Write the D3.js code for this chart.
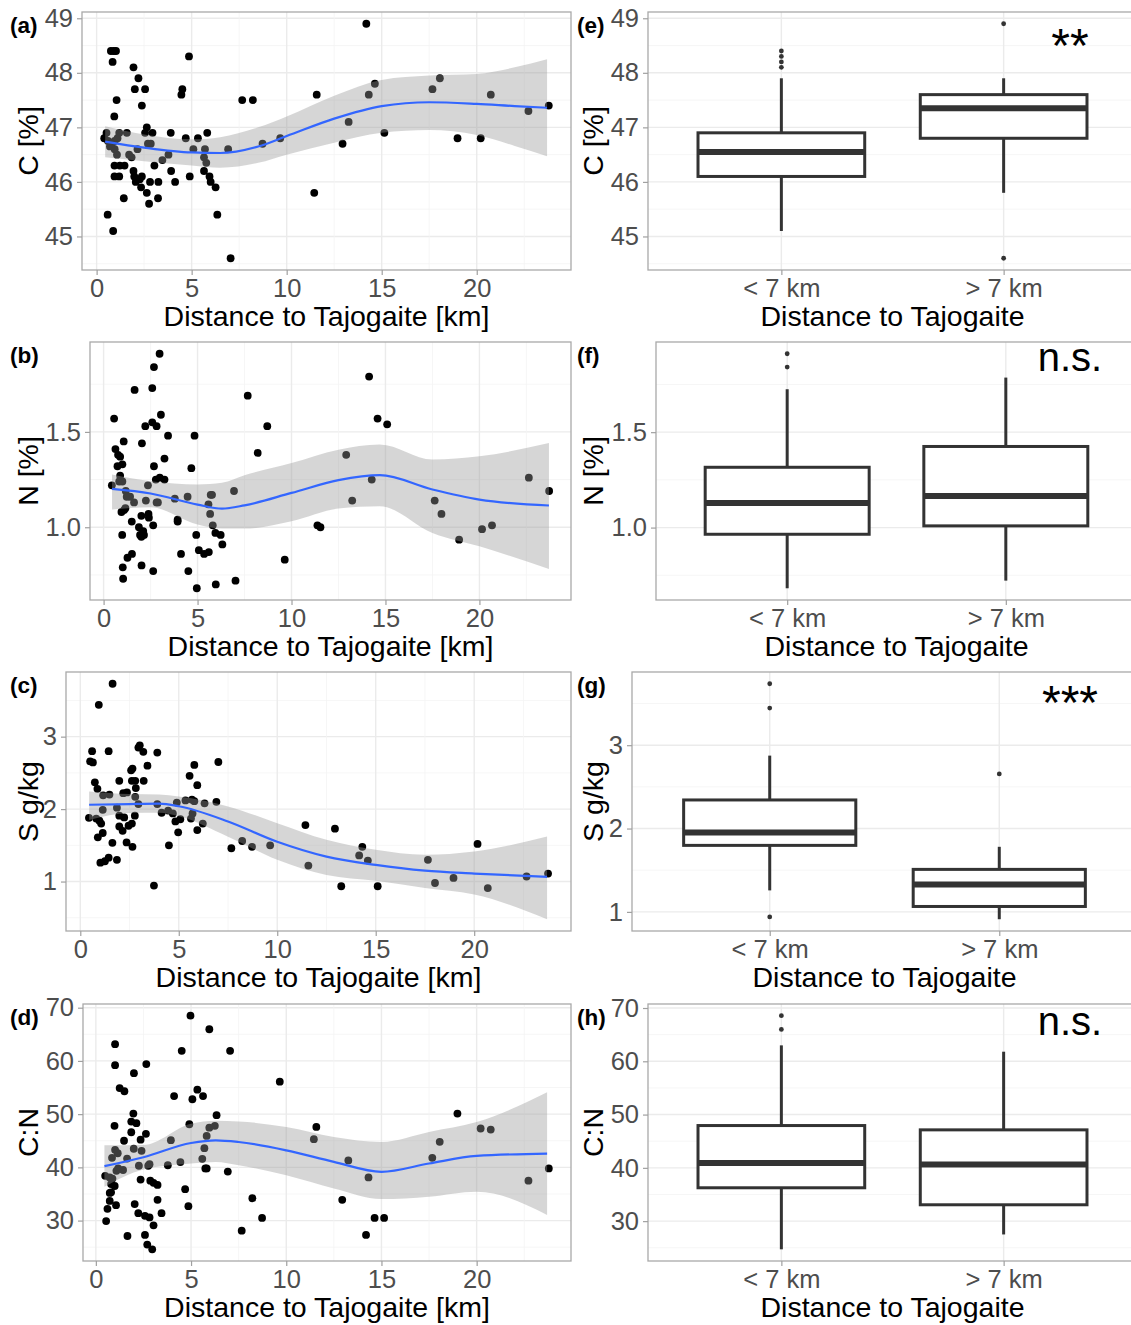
<!DOCTYPE html>
<html>
<head>
<meta charset="utf-8">
<script src="https://cdn.jsdelivr.net/npm/d3@7"></script>
<style>
  body { margin: 0; background: #fff; }
  svg text { font-family: "Liberation Sans", Arial, Helvetica, sans-serif; }
</style>
</head>
<body>
<script>
// ---------- sample data: [distance to Tajogaite (km), value] ----------
const carbonPts = [
  [0.75,48.4],[0.9,48.4],[1.02,48.4],[0.84,48.2],[4.86,48.3],[1.94,48.1],[2.2,47.9],[2.01,47.7],[2.55,47.7],
  [4.51,47.7],[4.46,47.6],[2.38,47.4],[1.05,47.5],[0.93,47.2],[0.52,46.9],[1.19,46.9],[1.59,46.9],[2.64,47.0],
  [2.55,46.9],[2.94,46.9],[3.9,46.9],[5.82,46.9],[4.69,46.8],[5.33,46.8],[0.4,46.8],[0.6,46.75],[0.95,46.75],
  [0.7,46.65],[0.95,46.6],[0.8,46.7],[1.1,46.8],[2.7,46.7],[2.85,46.7],[5.09,46.6],[5.7,46.6],[6.92,46.6],
  [1.71,46.5],[1.84,46.45],[2.15,46.6],[3.78,46.5],[3.46,46.4],[1.07,46.5],[5.65,46.45],[5.77,46.35],
  [0.94,46.3],[1.22,46.3],[1.47,46.3],[3.04,46.3],[1.94,46.2],[3.92,46.2],[5.65,46.2],[0.94,46.1],[1.19,46.1],
  [1.98,46.1],[2.38,46.1],[4.9,46.1],[5.94,46.1],[2.06,46.0],[2.27,46.05],[2.81,46.0],[3.25,46.0],[4.13,46.0],
  [6.0,46.0],[2.34,45.9],[2.64,45.8],[6.26,45.9],[1.43,45.7],[3.23,45.7],[2.76,45.6],[0.58,45.4],[6.35,45.4],
  [0.87,45.1],[7.05,44.6],[7.66,47.5],[8.22,47.5],[8.73,46.7],[9.66,46.8],[11.45,45.8],[11.58,47.6],
  [12.94,46.7],[13.26,47.1],[14.19,48.9],[14.32,47.6],[14.64,47.8],[15.14,46.9],[17.67,47.7],[18.06,47.9],
  [18.99,46.8],[20.21,46.8],[20.74,47.6],[22.72,47.3],[23.79,47.4]
];
const nitrogenPts = [
  [2.98,1.91],[2.68,1.84],[1.65,1.72],[2.59,1.73],[0.56,1.57],[3.05,1.59],[2.59,1.55],[2.22,1.53],[2.82,1.53],
  [3.43,1.48],[4.84,1.48],[1.07,1.45],[2.04,1.44],[0.63,1.41],[0.77,1.38],[0.88,1.37],[3.24,1.36],[0.74,1.32],
  [1.0,1.33],[2.68,1.32],[4.67,1.31],[0.83,1.24],[1.0,1.24],[0.88,1.27],[2.78,1.25],[2.99,1.26],[3.24,1.25],
  [0.44,1.22],[2.36,1.22],[1.18,1.19],[1.41,1.16],[1.23,1.16],[1.62,1.13],[2.25,1.14],[2.82,1.13],[2.89,1.13],
  [3.79,1.15],[4.47,1.16],[5.77,1.17],[5.7,1.17],[6.94,1.19],[5.58,1.12],[5.67,1.07],[0.95,1.08],[1.09,1.09],
  [1.16,1.1],[2.01,1.06],[2.39,1.07],[2.41,1.05],[3.94,1.04],[3.94,1.03],[5.81,1.01],[1.5,1.03],[1.88,1.0],
  [2.11,0.98],[1.94,0.96],[2.01,0.95],[2.15,0.96],[2.64,1.01],[0.99,0.96],[4.93,0.96],[5.95,0.97],[6.23,0.96],
  [6.32,0.91],[1.51,0.86],[1.27,0.84],[4.12,0.86],[5.07,0.88],[5.35,0.86],[5.6,0.87],[1.02,0.79],[2.02,0.8],
  [2.64,0.77],[4.51,0.77],[1.04,0.73],[4.96,0.68],[5.97,0.70],[7.02,0.72],[7.67,1.69],[8.2,1.39],[8.71,1.53],
  [9.64,0.83],[11.38,1.01],[11.54,1.0],[12.91,1.38],[13.23,1.14],[14.13,1.79],[14.27,1.25],[14.58,1.57],
  [15.09,1.54],[17.62,1.14],[17.98,1.07],[18.92,0.935],[20.14,0.99],[20.67,1.01],[22.63,1.26],[23.71,1.19]
];
const sulfurPts = [
  [1.64,3.73],[0.94,3.44],[0.6,2.8],[1.44,2.8],[3.02,2.88],[2.95,2.85],[3.2,2.79],[3.91,2.78],[0.5,2.66],
  [0.64,2.645],[5.79,2.61],[3.41,2.6],[2.65,2.56],[2.58,2.535],[5.55,2.46],[1.98,2.39],[2.62,2.39],[2.79,2.39],
  [3.22,2.39],[0.74,2.37],[5.94,2.33],[0.87,2.28],[2.82,2.29],[1.16,2.19],[1.48,2.2],[2.18,2.22],[2.37,2.23],
  [2.79,2.17],[5.34,2.12],[5.67,2.13],[5.79,2.11],[6.31,2.08],[6.91,2.1],[4.9,2.09],[3.91,2.07],[2.95,2.07],
  [1.14,1.99],[1.86,2.02],[4.13,1.95],[4.46,1.98],[4.7,1.94],[5.7,1.94],[0.44,1.88],[0.81,1.87],[0.97,1.84],
  [1.06,1.8],[1.98,1.91],[2.23,1.885],[2.77,1.91],[4.83,1.83],[5.08,1.86],[5.62,1.87],[1.98,1.76],[2.15,1.7],
  [2.62,1.8],[2.45,1.77],[6.22,1.8],[4.97,1.68],[5.94,1.71],[0.89,1.61],[1.14,1.67],[2.35,1.54],[2.65,1.48],
  [1.63,1.535],[4.5,1.5],[1.02,1.26],[1.25,1.28],[1.44,1.33],[1.86,1.3],[3.74,0.945],
  [7.01,2.65],[7.67,1.46],[8.22,1.56],[8.72,1.48],[9.64,1.5],[11.43,1.78],[11.58,1.22],[12.93,1.73],
  [13.25,0.935],[14.16,1.36],[14.32,1.48],[14.6,1.29],[15.1,0.935],[17.65,1.3],[18.01,0.98],[18.95,1.05],
  [20.17,1.52],[20.69,0.91],[22.66,1.07],[23.75,1.11]
];
const ratioPts = [
  [4.97,68.5],[5.96,65.95],[1.01,63.15],[4.51,61.9],[1.01,59.2],[2.65,59.4],[2.0,57.7],[1.25,54.9],[1.5,54.3],
  [4.11,53.4],[5.33,54.6],[5.07,52.8],[5.63,53.4],[1.97,50.1],[6.34,49.8],[1.86,48.6],[2.13,48.3],[0.98,47.8],
  [2.63,46.3],[1.86,46.6],[4.91,48.1],[5.96,47.45],[6.25,47.8],[5.82,45.9],[1.48,45.0],[2.35,45.2],[3.94,45.1],
  [1.01,43.3],[1.15,42.65],[1.99,43.5],[2.4,43.1],[5.7,43.6],[0.85,41.8],[1.64,41.65],[2.26,40.3],[2.82,40.6],
  [2.75,40.3],[3.78,40.4],[4.44,41.0],[5.59,41.6],[1.17,39.8],[1.43,39.5],[1.08,39.35],[5.75,39.8],[5.82,39.8],
  [0.49,38.4],[0.73,38.1],[0.87,37.9],[0.8,36.85],[0.99,36.5],[2.35,37.7],[2.86,37.5],[3.03,37.1],[3.24,36.7],
  [4.69,35.9],[6.93,39.2],[0.8,35.3],[0.73,35.2],[3.24,33.9],[0.73,33.7],[1.06,32.9],[0.61,32.2],[2.04,33.1],
  [4.86,32.7],[0.54,29.9],[2.23,31.4],[2.58,30.9],[2.82,30.6],[3.45,31.4],[3.03,29.1],[1.66,27.1],[2.58,27.3],
  [2.7,25.5],[2.96,24.6],[7.05,61.9],[7.66,28.1],[8.22,34.2],[8.73,30.5],[9.66,56.1],[11.45,45.3],[11.58,47.6],
  [12.94,33.9],[13.26,41.3],[14.19,27.3],[14.32,38.1],[14.64,30.5],[15.14,30.5],[17.67,41.8],[18.06,44.8],
  [18.99,50.1],[20.21,47.3],[20.74,47.1],[22.72,37.5],[23.79,39.8]
];

// ---------- loess fits with 95% band ----------
const carbonFitX = [0.45, 2.5, 5, 6.5, 8.5, 10, 12.5, 15, 17.5, 20, 22, 23.7];
const carbonFit  = [46.74, 46.63, 46.54, 46.53, 46.65, 46.84, 47.16, 47.39, 47.46, 47.43, 47.39, 47.36];
const carbonLo   = [46.45, 46.38, 46.30, 46.26, 46.35, 46.50, 46.72, 46.90, 46.95, 46.86, 46.66, 46.47];
const carbonHi   = [47.02, 46.87, 46.78, 46.82, 47.00, 47.20, 47.58, 47.87, 47.95, 47.98, 48.10, 48.25];

const nitrogenFitX = [0.45, 2.5, 5, 6.3, 7.5, 10, 12.5, 14.7, 17.5, 20, 23.7];
const nitrogenFit  = [1.201, 1.177, 1.119, 1.098, 1.115, 1.180, 1.247, 1.273, 1.198, 1.145, 1.114];
const nitrogenLo   = [1.093, 1.105, 1.014, 0.993, 0.993, 1.031, 1.098, 1.110, 0.970, 0.900, 0.781];
const nitrogenHi   = [1.276, 1.241, 1.224, 1.233, 1.273, 1.337, 1.407, 1.434, 1.355, 1.372, 1.442];

const sulfurFitX = [0.45, 2.5, 4, 5, 7.5, 10, 12.5, 15, 17.5, 20, 23.7];
const sulfurFit  = [2.06, 2.07, 2.075, 2.04, 1.83, 1.55, 1.345, 1.23, 1.15, 1.11, 1.065];
const sulfurLo   = [1.85, 1.945, 1.95, 1.90, 1.62, 1.30, 1.09, 1.01, 0.91, 0.82, 0.48];
const sulfurHi   = [2.244, 2.207, 2.20, 2.175, 2.037, 1.806, 1.576, 1.438, 1.369, 1.415, 1.622];

const ratioFitX = [0.45, 2.5, 5, 6.3, 7.5, 10, 12.5, 15, 17.5, 20, 23.7];
const ratioFit  = [40.22, 41.9, 44.58, 45.08, 44.77, 43.2, 41.03, 39.16, 40.72, 42.15, 42.59];
const ratioLo   = [36.36, 39.6, 40.72, 41.03, 40.4, 38.53, 36.04, 34.05, 34.49, 35.42, 31.06];
const ratioHi   = [44.14, 44.2, 48.19, 48.75, 48.63, 47.57, 45.7, 44.77, 46.64, 48.5, 54.11];

// ---------- box-plot summaries by distance class ----------
const groups = ["< 7 km", "> 7 km"];
const carbonBox = [
  { lower: 45.1, q1: 46.1, median: 46.55, q3: 46.9, upper: 47.9, out: [48.1, 48.2, 48.3, 48.4] },
  { lower: 45.8, q1: 46.8, median: 47.35, q3: 47.6, upper: 47.9, out: [48.9, 44.6] }
];
const nitrogenBox = [
  { lower: 0.682, q1: 0.965, median: 1.129, q3: 1.316, upper: 1.725, out: [1.911, 1.841] },
  { lower: 0.722, q1: 1.009, median: 1.166, q3: 1.425, upper: 1.786, out: [] }
];
const sulfurBox = [
  { lower: 1.258, q1: 1.798, median: 1.954, q3: 2.343, upper: 2.875, out: [3.737, 3.445, 0.94] },
  { lower: 0.912, q1: 1.065, median: 1.329, q3: 1.51, upper: 1.781, out: [2.655] }
];
const ratioBox = [
  { lower: 24.71, q1: 36.26, median: 40.93, q3: 47.94, upper: 62.99, out: [68.56, 65.98] },
  { lower: 27.5, q1: 33.07, median: 40.62, q3: 47.13, upper: 61.8, out: [] }
];
const signif = ["**", "n.s.", "***", "n.s."];

// ---------- tick values and labels ----------
const distTicks = [0, 5, 10, 15, 20];
const carbonTicks = [45, 46, 47, 48, 49];
const nitrogenTicks = [1.0, 1.5];
const nitrogenTickLabels = ["1.0", "1.5"];
const sulfurTicks = [1, 2, 3];
const ratioTicks = [30, 40, 50, 60, 70];

const panelLetters = ["(a)", "(b)", "(c)", "(d)", "(e)", "(f)", "(g)", "(h)"];
const yTitles = ["C [%]", "N [%]", "S g/kg", "C:N"];

// ---------- drawing ----------
const W = 1131, H = 1325;
const svg = d3.select("body").append("svg")
  .attr("width", W).attr("height", H).style("display", "block");
svg.append("rect").attr("width", W).attr("height", H).attr("fill", "#ffffff");

const TICK_FS = 25.5, TITLE_FS = 28.5, LETTER_FS = 22.5;
const GRID_MAJOR = "#ebebeb", GRID_MINOR = "#f4f4f4", BORDER = "#a9a9a9", TICK_COL = "#a0a0a0";
const BOX_COL = "#333333";

function expand([a, b], f = 0.05) { const d = (b - a) * f; return [a - d, b + d]; }
function minorsOf(ticks, dom) {
  const step = ticks[1] - ticks[0], out = [];
  for (let v = ticks[0] - step / 2; v <= dom[1]; v += step) if (v >= dom[0]) out.push(v);
  return out;
}

let clipId = 0;
function panelFrame(box) {
  const id = "clip" + (clipId++);
  svg.append("clipPath").attr("id", id).append("rect")
    .attr("x", box.x0).attr("y", box.y0).attr("width", box.x1 - box.x0).attr("height", box.y1 - box.y0);
  return svg.append("g").attr("clip-path", `url(#${id})`);
}
function border(box) {
  svg.append("rect").attr("x", box.x0).attr("y", box.y0)
    .attr("width", box.x1 - box.x0).attr("height", box.y1 - box.y0)
    .attr("fill", "none").attr("stroke", BORDER).attr("stroke-width", 1.3);
}
function hGrid(g, y, box, major, minor) {
  g.selectAll(null).data(minor).join("line")
    .attr("x1", box.x0).attr("x2", box.x1).attr("y1", d => y(d)).attr("y2", d => y(d))
    .attr("stroke", GRID_MINOR).attr("stroke-width", 0.8);
  g.selectAll(null).data(major).join("line")
    .attr("x1", box.x0).attr("x2", box.x1).attr("y1", d => y(d)).attr("y2", d => y(d))
    .attr("stroke", GRID_MAJOR).attr("stroke-width", 1.4);
}
function vGrid(g, x, box, major, minor) {
  g.selectAll(null).data(minor).join("line")
    .attr("y1", box.y0).attr("y2", box.y1).attr("x1", d => x(d)).attr("x2", d => x(d))
    .attr("stroke", GRID_MINOR).attr("stroke-width", 0.8);
  g.selectAll(null).data(major).join("line")
    .attr("y1", box.y0).attr("y2", box.y1).attr("x1", d => x(d)).attr("x2", d => x(d))
    .attr("stroke", GRID_MAJOR).attr("stroke-width", 1.4);
}
function styleAxis(g) {
  g.select(".domain").remove();
  g.attr("font-family", null).attr("font-size", TICK_FS);
  g.selectAll(".tick line").attr("stroke", TICK_COL).attr("stroke-width", 1.2);
  g.selectAll(".tick text").attr("fill", "#4d4d4d");
}
function axes(x, y, box, xTicks, xFmt, yTicks, yFmt) {
  const gx = svg.append("g").attr("transform", `translate(0,${box.y1})`)
    .call(d3.axisBottom(x).tickValues(xTicks).tickFormat(xFmt).tickSize(5).tickPadding(4));
  styleAxis(gx);
  const gy = svg.append("g").attr("transform", `translate(${box.x0},0)`)
    .call(d3.axisLeft(y).tickValues(yTicks).tickFormat(yFmt).tickSize(5).tickPadding(4));
  styleAxis(gy);
}
function titles(box, xTitle, yTitle, yTitleX, letter, letterX) {
  svg.append("text").attr("x", (box.x0 + box.x1) / 2).attr("y", box.y1 + 56)
    .attr("text-anchor", "middle").attr("font-size", TITLE_FS).attr("fill", "#000").text(xTitle);
  svg.append("text").attr("transform", `translate(${yTitleX},${(box.y0 + box.y1) / 2}) rotate(-90)`)
    .attr("text-anchor", "middle").attr("dy", "0.36em")
    .attr("font-size", TITLE_FS).attr("fill", "#000").text(yTitle);
  svg.append("text").attr("x", letterX).attr("y", box.y0 + 21)
    .attr("font-size", LETTER_FS).attr("font-weight", "bold").attr("fill", "#000").text(letter);
}

function scatterPanel(p) {
  const allX = p.pts.map(d => d[0]);
  const allY = p.pts.map(d => d[1]).concat(p.lo, p.hi);
  const x = d3.scaleLinear().domain(expand(d3.extent(allX))).range([p.box.x0, p.box.x1]);
  const y = d3.scaleLinear().domain(expand(d3.extent(allY))).range([p.box.y1, p.box.y0]);
  const g = panelFrame(p.box);
  hGrid(g, y, p.box, p.yTicks, minorsOf(p.yTicks, y.domain()));
  vGrid(g, x, p.box, distTicks, minorsOf(distTicks, x.domain()));
  g.selectAll(null).data(p.pts).join("circle")
    .attr("cx", d => x(d[0])).attr("cy", d => y(d[1])).attr("r", 3.9).attr("fill", "#000");
  const band = p.fitX.map((v, i) => ({ x: v, fit: p.fit[i], lo: p.lo[i], hi: p.hi[i] }));
  g.append("path").datum(band)
    .attr("d", d3.area().curve(d3.curveMonotoneX).x(d => x(d.x)).y0(d => y(d.lo)).y1(d => y(d.hi)))
    .attr("fill", "#999999").attr("fill-opacity", 0.4);
  g.append("path").datum(band)
    .attr("d", d3.line().curve(d3.curveMonotoneX).x(d => x(d.x)).y(d => y(d.fit)))
    .attr("fill", "none").attr("stroke", "#3366FF").attr("stroke-width", 2.2);
  border(p.box);
  axes(x, y, p.box, distTicks, d3.format("d"), p.yTicks, p.yFmt);
  titles(p.box, "Distance to Tajogaite [km]", p.yTitle, 28, p.letter, 10);
}

function boxPanel(p) {
  const vals = p.stats.flatMap(s => [s.lower, s.upper, ...s.out]);
  const x = d3.scalePoint().domain(groups).range([p.box.x0, p.box.x1]).padding(0.6);
  const y = d3.scaleLinear().domain(expand(d3.extent(vals))).range([p.box.y1, p.box.y0]);
  const bw = x.step() * 0.75;
  const g = panelFrame(p.box);
  hGrid(g, y, p.box, p.yTicks, minorsOf(p.yTicks, y.domain()));
  vGrid(g, x, p.box, groups, []);
  const data = p.stats.map((s, i) => ({ ...s, group: groups[i] }));
  const items = g.selectAll(null).data(data).join("g");
  items.append("line").attr("x1", d => x(d.group)).attr("x2", d => x(d.group))
    .attr("y1", d => y(d.q3)).attr("y2", d => y(d.upper))
    .attr("stroke", BOX_COL).attr("stroke-width", 3);
  items.append("line").attr("x1", d => x(d.group)).attr("x2", d => x(d.group))
    .attr("y1", d => y(d.q1)).attr("y2", d => y(d.lower))
    .attr("stroke", BOX_COL).attr("stroke-width", 3);
  items.append("rect").attr("x", d => x(d.group) - bw / 2).attr("width", bw)
    .attr("y", d => y(d.q3)).attr("height", d => y(d.q1) - y(d.q3))
    .attr("fill", "#fff").attr("stroke", BOX_COL).attr("stroke-width", 3);
  items.append("line").attr("x1", d => x(d.group) - bw / 2).attr("x2", d => x(d.group) + bw / 2)
    .attr("y1", d => y(d.median)).attr("y2", d => y(d.median))
    .attr("stroke", BOX_COL).attr("stroke-width", 6);
  items.selectAll(null).data(d => d.out.map(v => ({ group: d.group, v }))).join("circle")
    .attr("cx", d => x(d.group)).attr("cy", d => y(d.v)).attr("r", 2.4).attr("fill", BOX_COL);
  border(p.box);
  axes(x, y, p.box, groups, d => d, p.yTicks, p.yFmt);
  titles(p.box, "Distance to Tajogaite", p.yTitle, 593, p.letter, 577);
  svg.append("text").attr("x", 1070).attr("y", p.box.y0 + p.sigDy)
    .attr("text-anchor", "middle").attr("font-size", p.sigFs).attr("fill", "#000").text(p.sig);
}

const fmtInt = d3.format("d");
const fmtN = (d) => nitrogenTickLabels[nitrogenTicks.indexOf(d)];

scatterPanel({ letter: panelLetters[0], yTitle: yTitles[0], pts: carbonPts, fitX: carbonFitX, fit: carbonFit, lo: carbonLo, hi: carbonHi,
  yTicks: carbonTicks, yFmt: fmtInt, box: { x0: 82, x1: 571, y0: 12, y1: 270 } });
scatterPanel({ letter: panelLetters[1], yTitle: yTitles[1], pts: nitrogenPts, fitX: nitrogenFitX, fit: nitrogenFit, lo: nitrogenLo, hi: nitrogenHi,
  yTicks: nitrogenTicks, yFmt: fmtN, box: { x0: 90, x1: 571, y0: 342, y1: 600 } });
scatterPanel({ letter: panelLetters[2], yTitle: yTitles[2], pts: sulfurPts, fitX: sulfurFitX, fit: sulfurFit, lo: sulfurLo, hi: sulfurHi,
  yTicks: sulfurTicks, yFmt: fmtInt, box: { x0: 66, x1: 571, y0: 672, y1: 931 } });
scatterPanel({ letter: panelLetters[3], yTitle: yTitles[3], pts: ratioPts, fitX: ratioFitX, fit: ratioFit, lo: ratioLo, hi: ratioHi,
  yTicks: ratioTicks, yFmt: fmtInt, box: { x0: 83, x1: 571, y0: 1004, y1: 1261 } });

boxPanel({ letter: panelLetters[4], yTitle: yTitles[0], stats: carbonBox, yTicks: carbonTicks, yFmt: fmtInt,
  sig: signif[0], sigFs: 48, sigDy: 50, box: { x0: 648, x1: 1137, y0: 12, y1: 270 } });
boxPanel({ letter: panelLetters[5], yTitle: yTitles[1], stats: nitrogenBox, yTicks: nitrogenTicks, yFmt: fmtN,
  sig: signif[1], sigFs: 40, sigDy: 29, box: { x0: 656, x1: 1137, y0: 342, y1: 600 } });
boxPanel({ letter: panelLetters[6], yTitle: yTitles[2], stats: sulfurBox, yTicks: sulfurTicks, yFmt: fmtInt,
  sig: signif[2], sigFs: 48, sigDy: 47, box: { x0: 632, x1: 1137, y0: 672, y1: 931 } });
boxPanel({ letter: panelLetters[7], yTitle: yTitles[3], stats: ratioBox, yTicks: ratioTicks, yFmt: fmtInt,
  sig: signif[3], sigFs: 40, sigDy: 31, box: { x0: 648, x1: 1137, y0: 1004, y1: 1261 } });
</script>
</body>
</html>
